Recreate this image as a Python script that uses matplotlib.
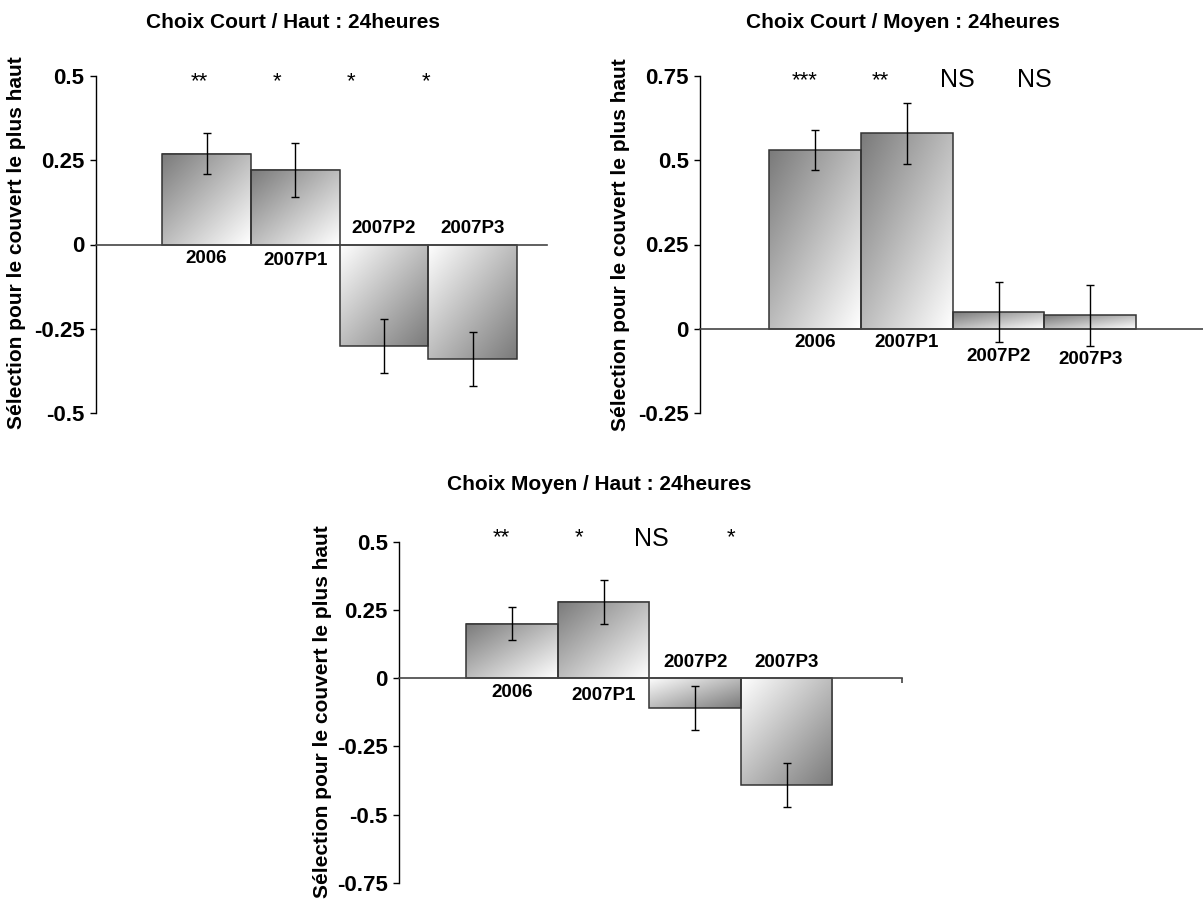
import matplotlib.pyplot as plt
import numpy as np
from matplotlib.colors import LinearSegmentedColormap

plt.rcParams['font.family'] = ['Liberation Sans', 'DejaVu Sans']
plt.rcParams['axes.unicode_minus'] = False

# data
categories = ['2006', '2007P1', '2007P2', '2007P3']
ylabel = 'Sélection pour le couvert le plus haut'

court_haut_title = 'Choix Court / Haut : 24heures'
court_haut = [0.27, 0.22, -0.30, -0.34]
court_haut_err = [0.06, 0.08, 0.08, 0.08]
court_haut_sig = ['**', '*', '*', '*']
court_haut_ticks = [-0.5, -0.25, 0, 0.25, 0.5]

court_moyen_title = 'Choix Court / Moyen : 24heures'
court_moyen = [0.53, 0.58, 0.05, 0.04]
court_moyen_err = [0.06, 0.09, 0.09, 0.09]
court_moyen_sig = ['***', '**', 'NS', 'NS']
court_moyen_ticks = [-0.25, 0, 0.25, 0.5, 0.75]

moyen_haut_title = 'Choix Moyen / Haut : 24heures'
moyen_haut = [0.20, 0.28, -0.11, -0.39]
moyen_haut_err = [0.06, 0.08, 0.08, 0.08]
moyen_haut_sig = ['**', '*', 'NS', '*']
moyen_haut_ticks = [-0.75, -0.5, -0.25, 0, 0.25, 0.5]

W, H = 1203, 901
PT = 72 / 100  # points per pixel

grad = LinearSegmentedColormap.from_list('grad', ['#7a7a7a', '#ffffff'])


def px_rect(left, top, right, bottom):
    return [left / W, 1 - bottom / H, (right - left) / W, (bottom - top) / H]


def draw_panel(fig, rect, title, title_xy, ylab_xy, values, errs, sig, ticks,
               xlim, sig_x, sig_px, lab_px, end_tick=False):
    ax = fig.add_axes(px_rect(*rect))
    x = np.arange(len(values))

    # gradient fill of every bar
    n = 200
    u, v = np.meshgrid(np.linspace(0, 1, n), np.linspace(0, 1, n))
    t = (u + v) / 2
    for i, val in enumerate(values):
        img = t if val >= 0 else 1 - t
        ax.imshow(img, extent=(i - 0.5, i + 0.5, min(0, val), max(0, val)),
                  origin='upper', cmap=grad, vmin=0, vmax=1, aspect='auto',
                  interpolation='bilinear', zorder=1)
    ax.bar(x, values, width=1.0, facecolor='none', edgecolor='#333333',
           linewidth=1.1, zorder=2)
    ax.errorbar(x, values, yerr=errs, fmt='none', ecolor='black',
                elinewidth=1, capsize=3, capthick=1, zorder=3)

    ax.set_xlim(*xlim)
    ax.set_ylim(ticks[0], ticks[-1])
    ax.set_yticks(ticks)
    ax.set_yticklabels([f'{tk:g}' for tk in ticks], fontsize=16, fontweight='bold')
    ax.tick_params(axis='y', direction='out', length=4, width=1, pad=4)
    if end_tick:
        ax.set_xticks([xlim[1]])
        ax.set_xticklabels([''])
        ax.tick_params(axis='x', direction='out', length=3.5, width=1.2, color='#444444')
    else:
        ax.set_xticks([])

    for s in ['top', 'right']:
        ax.spines[s].set_visible(False)
    ax.spines['left'].set_linewidth(1)
    ax.spines['bottom'].set_position(('data', 0))
    ax.spines['bottom'].set_color('#444444')
    ax.spines['bottom'].set_linewidth(1.2)

    # category labels near the zero line
    for i, (cat, off) in enumerate(zip(categories, lab_px)):
        ax.annotate(cat, xy=(i, 0), xytext=(0, -off * PT), textcoords='offset points',
                    ha='center', va='center', fontsize=13.5, fontweight='bold',
                    annotation_clip=False)

    # significance marks
    for sx, s, dy in zip(sig_x, sig, sig_px):
        if s == 'NS':
            ax.annotate(s, xy=(sx, ticks[-1]), xytext=(0, -(dy + 9) * PT),
                        textcoords='offset points', ha='center', va='baseline',
                        fontsize=18, annotation_clip=False)
        else:
            ax.annotate(s, xy=(sx, ticks[-1]), xytext=(0, -(dy + 13) * PT),
                        textcoords='offset points', ha='center', va='baseline',
                        fontsize=16, annotation_clip=False)

    fig.text(title_xy[0] / W, 1 - title_xy[1] / H, title, ha='center', va='center',
             fontsize=15, fontweight='bold')
    fig.text(ylab_xy[0] / W, 1 - ylab_xy[1] / H, ylabel, ha='center', va='center',
             rotation=90, fontsize=15, fontweight='bold')
    return ax


fig = plt.figure(figsize=(W / 100, H / 100), dpi=100, facecolor='white')

draw_panel(fig, (95.5, 76, 547, 413), court_haut_title, (293, 22), (17, 243),
           court_haut, court_haut_err, court_haut_sig, court_haut_ticks,
           xlim=(-1.252, 3.84), sig_x=[-0.08, 0.80, 1.63, 2.48],
           sig_px=[-2, -2, -2, -2], lab_px=[14, 16, -16, -16])

draw_panel(fig, (700, 76, 1203, 413), court_moyen_title, (903, 22), (620, 245),
           court_moyen, court_moyen_err, court_moyen_sig, court_moyen_ticks,
           xlim=(-1.256, 4.23), sig_x=[-0.12, 0.71, 1.55, 2.39],
           sig_px=[-3, -3, 2, 2], lab_px=[14, 14, 28, 31])

draw_panel(fig, (399, 541.7, 902, 883), moyen_haut_title, (599, 485), (322, 712),
           moyen_haut, moyen_haut_err, moyen_haut_sig, moyen_haut_ticks,
           xlim=(-1.237, 4.26), sig_x=[-0.12, 0.73, 1.52, 2.39],
           sig_px=[-12, -12, -5, -12], lab_px=[14, 17, -16, -16], end_tick=True)

fig.savefig('out.png', dpi=100, facecolor='white')
